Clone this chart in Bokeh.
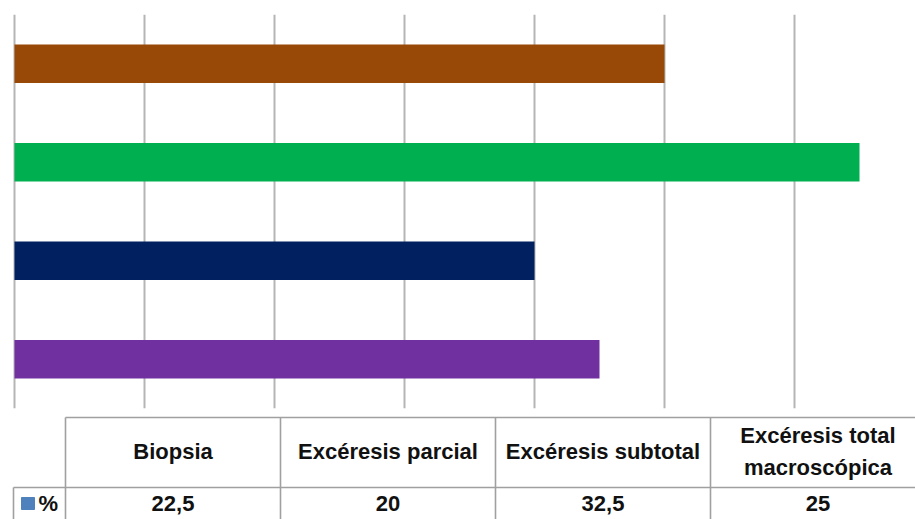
from bokeh.plotting import figure
from bokeh.layouts import column
from bokeh.models import Range1d, FactorRange, FixedTicker, ColumnDataSource
from bokeh.core.properties import value
from bokeh.embed import file_html
from bokeh.resources import INLINE

# Data: type of surgical resection and share of patients (%)
categories = ["Biopsia", "Excéresis parcial", "Excéresis subtotal", "Excéresis total macroscópica"]
header_labels = ["Biopsia", "Excéresis parcial", "Excéresis subtotal", "Excéresis total\nmacroscópica"]
percent = [22.5, 20, 32.5, 25]
bar_colors = ["#7030a0", "#002060", "#00b050", "#984807"]
series_name = "%"
grid_ticks = [0, 5, 10, 15, 20, 25, 30]

FONT = "Liberation Sans"
FONT_SIZE = "22px"
W = 915
CHART_H = 410
TABLE_H = 109

# ---- bar chart ----
px_per_unit = 26.0
x_start = -14 / px_per_unit
x_end = x_start + W / px_per_unit

p = figure(width=W, height=CHART_H, output_backend="svg", toolbar_location=None,
           x_range=Range1d(x_start, x_end), y_range=FactorRange(*categories),
           min_border_left=0, min_border_right=0, min_border_top=14, min_border_bottom=2)
p.hbar(y=categories, right=percent, left=0, height=0.39, color=bar_colors, line_width=0)

p.xaxis.visible = False
p.yaxis.visible = False
p.xaxis.ticker = FixedTicker(ticks=grid_ticks)
p.xgrid.ticker = FixedTicker(ticks=grid_ticks)
p.xgrid.grid_line_color = "#b5b5b5"
p.xgrid.grid_line_width = 2
p.ygrid.grid_line_color = None
p.outline_line_color = None
p.background_fill_color = "white"
p.border_fill_color = "white"

# ---- data table below the chart ----
t = figure(width=W, height=TABLE_H, output_backend="svg", toolbar_location=None,
           x_range=Range1d(0, W), y_range=Range1d(TABLE_H, 0),
           min_border=0)
t.axis.visible = False
t.grid.visible = False
t.outline_line_color = None
t.background_fill_color = "white"
t.border_fill_color = "white"

left_edge = 65
col_w = 215
top_y = 7
row_y = 77
n = len(categories)
edges = [left_edge + col_w * i for i in range(n + 1)]
centers = [(edges[i] + edges[i + 1]) / 2 for i in range(n)]

line_color = "#a0a0a0"
# horizontal rules
t.segment(x0=[left_edge, 13], y0=[top_y, row_y], x1=[W, W], y1=[top_y, row_y],
          line_color=line_color, line_width=1.6)
# vertical rules
t.segment(x0=edges[:n] + [13], y0=[top_y] * n + [row_y], x1=edges[:n] + [13], y1=[TABLE_H] * (n + 1),
          line_color=line_color, line_width=1.6)

hdr = ColumnDataSource(dict(x=centers, y=[41] * n, text=header_labels))
t.text(x="x", y="y", text="text", source=hdr, text_align="center", text_baseline="middle",
       text_font=value(FONT), text_font_style="bold", text_font_size=FONT_SIZE,
       text_color="#111111", text_line_height=1.25)

vals = [("%g" % v).replace(".", ",") for v in percent]
t.text(x=centers, y=[93] * n, text=vals, text_align="center", text_baseline="middle",
       text_font=value(FONT), text_font_style="bold", text_font_size=FONT_SIZE, text_color="#111111")

# legend key for the single series
t.rect(x=[27.5], y=[93], width=13, height=12, color="#4f81bd")
t.text(x=[38], y=[93], text=[series_name], text_align="left", text_baseline="middle",
       text_font=value(FONT), text_font_style="bold", text_font_size=FONT_SIZE, text_color="#111111")

layout = column(p, t, spacing=0)
open("out.html", "w").write(file_html(layout, INLINE))
